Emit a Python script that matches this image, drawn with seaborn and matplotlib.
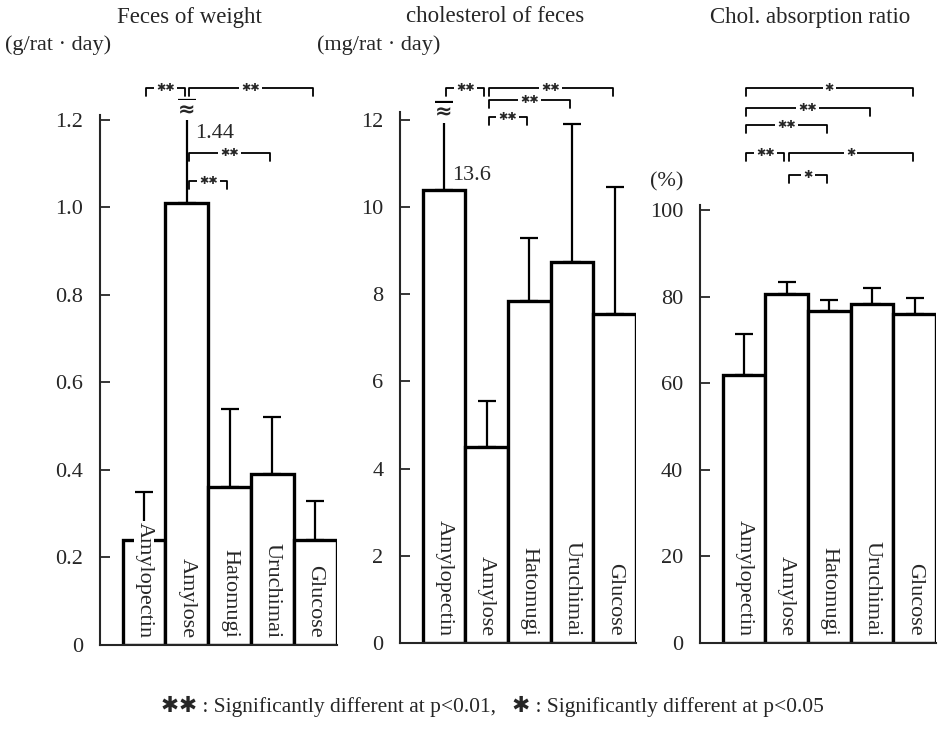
import numpy as np
import pandas as pd
import matplotlib
matplotlib.use("Agg")
import matplotlib.pyplot as plt
import matplotlib.transforms as mtransforms
import seaborn as sns

# ---------------- data ----------------
categories = ["Amylopectin", "Amylose", "Hatomugi", "Uruchimai", "Glucose"]

weight_mean = [0.24, 1.01, 0.36, 0.39, 0.24]
weight_err_top = [0.35, 1.44, 0.54, 0.52, 0.33]
weight_ticks = [0, 0.2, 0.4, 0.6, 0.8, 1.0, 1.2]
weight_ticklabels = ["0", "0.2", "0.4", "0.6", "0.8", "1.0", "1.2"]

chol_mean = [10.4, 4.5, 7.85, 8.75, 7.55]
chol_err_top = [13.6, 5.55, 9.3, 11.9, 10.45]
chol_ticks = [0, 2, 4, 6, 8, 10, 12]
chol_ticklabels = ["0", "2", "4", "6", "8", "10", "12"]

ratio_mean = [62.0, 80.7, 76.8, 78.4, 76.1]
ratio_err_top = [71.5, 83.3, 79.3, 82.0, 79.6]
ratio_ticks = [0, 20, 40, 60, 80, 100]
ratio_ticklabels = ["0", "20", "40", "60", "80", "100"]

# significance comparisons: (group i, group j, mark, row)
weight_sig = [(0, 1, "✱✱", 0), (1, 4, "✱✱", 0), (1, 3, "✱✱", 1), (1, 2, "✱✱", 2)]
chol_sig = [(0, 1, "✱✱", 0), (1, 4, "✱✱", 0), (1, 3, "✱✱", 1), (1, 2, "✱✱", 2)]
ratio_sig = [(0, 4, "✱", 0), (0, 3, "✱✱", 1), (0, 2, "✱✱", 2),
             (0, 1, "✱✱", 3), (1, 4, "✱", 3), (1, 2, "✱", 4)]

titles = ["Feces of weight", "cholesterol of feces", "Chol. absorption ratio"]
units = ["(g/rat · day)", "(mg/rat · day)", "(%)"]
footnote = "✱✱ : Significantly different at p<0.01,   ✱ : Significantly different at p<0.05"

# ---------------- style ----------------
sns.set_style("ticks")
plt.rcParams["font.family"] = ["Liberation Serif", "DejaVu Sans"]
FAM = ["Liberation Serif", "DejaVu Sans"]

W, H = 947, 738
fig = plt.figure(figsize=(W / 100, H / 100), dpi=100)
fig.patch.set_facecolor("white")


def px_axes(left, right, bottom, top):
    return fig.add_axes([left / W, (H - bottom) / H, (right - left) / W, (bottom - top) / H])


panels = [
    dict(mean=weight_mean, top=weight_err_top, ticks=weight_ticks, tl=weight_ticklabels,
         sig=weight_sig, rows=[88, 153, 181], box=(100, 336.5, 645, 115), ylim=1.2114,
         brk=(1.245, 1.222), lab=(1, 1.17, "{:.2f}"), title_x=189, unit_xy=(5, 45)),
    dict(mean=chol_mean, top=chol_err_top, ticks=chol_ticks, tl=chol_ticklabels,
         sig=chol_sig, rows=[88, 100, 117], box=(400, 636, 643, 112), ylim=12.18,
         brk=(12.41, 12.16), lab=(0, 10.72, "{:.1f}"), title_x=495, unit_xy=(317, 45)),
    dict(mean=ratio_mean, top=ratio_err_top, ticks=ratio_ticks, tl=ratio_ticklabels,
         sig=ratio_sig, rows=[88, 108, 125, 153, 175], box=(700, 936, 643, 205), ylim=101.2,
         brk=None, lab=None, title_x=810, unit_xy=(650, 182)),
]

for k, p in enumerate(panels):
    left, right, bottom, top = p["box"]
    ax = px_axes(left, right, bottom, top)
    df = pd.DataFrame({"cat": categories, "val": p["mean"]})
    sns.barplot(data=df, x="cat", y="val", order=categories, ax=ax, color="white",
                saturation=1, edgecolor="black", linewidth=2.4, width=1.0, errorbar=None)
    ax.set_xlim(-1.03, 4.5)
    ax.set_ylim(0, p["ylim"])
    ax.set_xlabel("")
    ax.set_ylabel("")
    ax.set_xticks([])
    ax.set_yticks(p["ticks"])
    ax.set_yticklabels(p["tl"])
    ax.tick_params(axis="y", direction="in", length=7, width=1.3, pad=12, labelsize=16)
    for s in ["top", "right"]:
        ax.spines[s].set_visible(False)
    for s in ["left", "bottom"]:
        ax.spines[s].set_linewidth(1.5)
    ax.patch.set_alpha(0)

    mean = np.array(p["mean"])
    topv = np.array(p["top"])
    shown = topv.copy()
    if p["brk"] is not None:
        shown = np.where(topv > p["ylim"], p["brk"][0], topv)
    xs = np.arange(len(categories))
    ax.errorbar(xs, mean, yerr=[np.zeros_like(mean), shown - mean], fmt="none",
                ecolor="black", elinewidth=1.6, capsize=6.5, capthick=1.6,
                clip_on=False, zorder=5)
    if p["brk"] is not None:
        for i in np.where(topv > p["ylim"])[0]:
            ax.text(i, p["brk"][1], "≈", ha="center", va="center", fontsize=15,
                    fontweight="bold", family=["DejaVu Sans"], clip_on=False, zorder=6,
                    bbox=dict(facecolor="white", edgecolor="none", pad=0.0))
    if p["lab"] is not None:
        i, yv, fmt = p["lab"]
        ax.annotate(fmt.format(p["top"][i]), xy=(i, yv), xytext=(6, 0),
                    textcoords="offset points", ha="left", va="center", fontsize=16,
                    annotation_clip=False)

    for i, name in enumerate(categories):
        ax.annotate(name, xy=(i, 0), xytext=(0, 5), textcoords="offset points",
                    rotation=-90, ha="center", va="bottom", fontsize=16, zorder=7,
                    bbox=dict(facecolor="white", edgecolor="none", pad=0.3))

    # significance brackets
    trans = mtransforms.blended_transform_factory(ax.transData, fig.transFigure)
    drop = 8 / H
    for (i, j, mark, row) in p["sig"]:
        y = 1 - p["rows"][row] / H
        a, b = i + 0.05, j - 0.05
        ax.plot([a, a, b, b], [y - drop, y, y, y - drop], color="black", lw=1.3,
                transform=trans, clip_on=False)
        ax.text((i + j) / 2, y, mark, ha="center", va="center", fontsize=8,
                family=["DejaVu Sans"], transform=trans, clip_on=False,
                bbox=dict(facecolor="white", edgecolor="none", pad=1.5))

    fig.text(p["title_x"] / W, 1 - 17 / H, titles[k], ha="center", va="center", fontsize=16.5)
    ux, uy = p["unit_xy"]
    fig.text(ux / W, 1 - uy / H, units[k], ha="left", va="center", fontsize=16)

fig.text(492 / W, 1 - 706 / H, footnote, ha="center", va="center", fontsize=15.5, family=FAM)

fig.savefig("out.png", dpi=100, facecolor="white")
